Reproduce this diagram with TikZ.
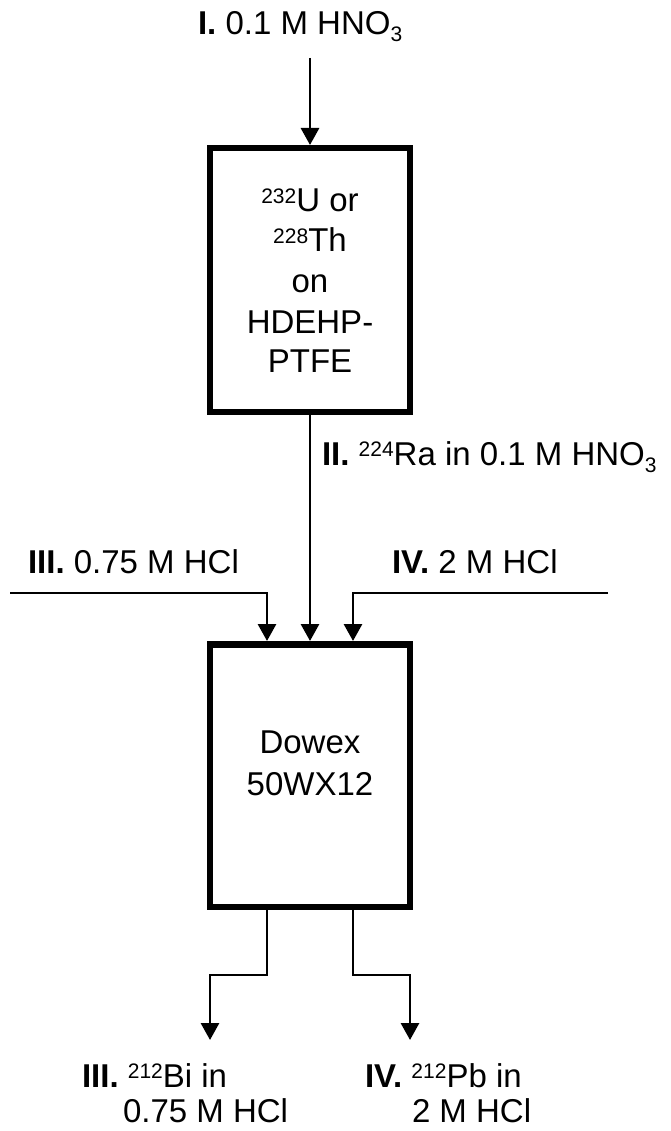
\documentclass[tikz,border=0pt]{standalone}
\usepackage{fontspec}
\setmainfont{Liberation Sans}
\usetikzlibrary{arrows.meta}
\newcommand\isup[1]{\raisebox{8.5pt}{\fontsize{21}{21}\selectfont #1}}
\newcommand\isub[1]{\raisebox{-7pt}{\fontsize{21}{21}\selectfont #1}}
\begin{document}
\begin{tikzpicture}[x=1pt,y=1pt,
  colbox/.style={draw, line width=6.5pt, minimum width=200pt, inner sep=0pt},
  lbl/.style={inner sep=0pt, outer sep=0pt, anchor=base west, font=\fontsize{33}{40}\selectfont},
  ctxt/.style={inner sep=0pt, outer sep=0pt, anchor=base, font=\fontsize{33}{40}\selectfont},
  flow/.style={line width=2.9pt, -{Triangle[length=17pt,width=18pt]}}
]
\useasboundingbox (0,0) rectangle (671,-1131);
% columns
\node[colbox, minimum height=263.5pt] (col1) at (310,-280) {};
\node[colbox, minimum height=262.5pt] (col2) at (310,-775.5) {};
% column texts
\node[ctxt] (c1a) at (310,-212) {\isup{232}U or};
\node[ctxt] (c1b) at (310,-252) {\isup{228}Th};
\node[ctxt] (c1c) at (310,-293) {on};
\node[ctxt] (c1d) at (310,-333) {HDEHP-};
\node[ctxt] (c1e) at (310,-372) {PTFE};
\node[ctxt] (c2a) at (310,-753) {Dowex};
\node[ctxt] (c2b) at (310,-795) {50WX12};
% labels
\node[lbl] (l1) at (198,-35) {\textbf{I.} 0.1 M HNO\isub{3}};
\node[lbl] (l2) at (322,-465) {\textbf{II.} \isup{224}Ra in 0.1 M HNO\isub{3}};
\node[lbl] (l3) at (28,-573) {\textbf{III.} 0.75 M HCl};
\node[lbl] (l4) at (392,-573) {\textbf{IV.} 2 M HCl};
\node[lbl] (l5a) at (82,-1087) {\textbf{III.} \isup{212}Bi in};
\node[lbl] (l5b) at (123,-1122) {0.75 M HCl};
\node[lbl] (l6a) at (365,-1087) {\textbf{IV.} \isup{212}Pb in};
\node[lbl] (l6b) at (412,-1122) {2 M HCl};
% free ends
\coordinate (in1) at (310,-58);
\coordinate (in3) at (10,-593);
\coordinate (in4) at (608,-593);
\coordinate (out3) at (210,-1040);
\coordinate (out4) at (410,-1040);
% connectors
\draw[flow] (in1) -- (col1.north);
\draw[flow] (col1.south) -- (col2.north);
\draw[flow] (in3) -| ([xshift=-43pt]col2.north);
\draw[flow] (in4) -| ([xshift=43pt]col2.north);
\draw[flow] ([xshift=-43pt]col2.south) -- ++(0,-65) -| (out3);
\draw[flow] ([xshift=43pt]col2.south) -- ++(0,-65) -| (out4);
\end{tikzpicture}
\end{document}
